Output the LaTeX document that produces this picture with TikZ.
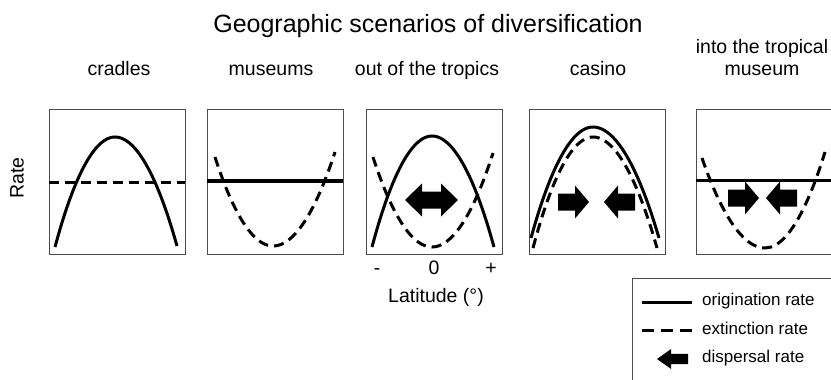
\documentclass[tikz,border=0pt]{standalone}
\usepackage{fontspec}
\setmainfont{Liberation Sans}
\begin{document}
\begin{tikzpicture}[x=1pt, y=-1pt,
  panel/.style={draw=black!70, line width=1pt},
  orig/.style={line width=3pt},
  ext/.style={line width=3pt, dash pattern=on 10pt off 6pt},
  lab/.style={font=\fontsize{19.5}{22}\selectfont, inner sep=0pt, anchor=base},
  key/.style={font=\fontsize{17}{20}\selectfont, inner sep=0pt, anchor=base west},
  disp/.pic={\fill (0,-8.5) -- (17,-8.5) -- (17,-16.5) -- (31,0) -- (17,16.5) -- (17,8.5) -- (0,8.5) -- cycle;}]
  \useasboundingbox (0,0) rectangle (831,380);
  \def\W{136}
  \def\H{145}
  % title and column heads
  \node[lab, font=\fontsize{25}{30}\selectfont] (title) at (428,32) {Geographic scenarios of diversification};
  \node[lab] (hcrad) at (119,75) {cradles};
  \node[lab] (hmus) at (271,75) {museums};
  \node[lab] (hout) at (427,75) {out of the tropics};
  \node[lab] (hcas) at (598,75) {casino};
  \node[lab, align=center] (hinto) at (762,75) {into the tropical\\museum};
  \node[lab, anchor=center, rotate=90] (rate) at (17,178) {Rate};
  % cradles
  \begin{scope}[shift={(49,109)}]
    \draw[panel] (0,0) rectangle (\W,\H);
    \draw[orig] (6,138) parabola bend (66,28) (128,137);
    \draw[ext] (0,73) -- (\W,73);
  \end{scope}
  % museums
  \begin{scope}[shift={(207,109)}]
    \draw[panel] (0,0) rectangle (\W,\H);
    \draw[orig, line width=4pt] (0,72) -- (\W,72);
    \draw[ext] (8,48) parabola bend (66,137) (128,43);
  \end{scope}
  % out of the tropics
  \begin{scope}[shift={(366,109)}]
    \draw[panel] (0,0) rectangle (\W,\H);
    \draw[orig] (6,138) parabola bend (66,27) (128,138);
    \draw[ext] (7,48) parabola bend (66,138) (127,44);
    \fill (39,91) -- (56,74.5) -- (56,82.5) -- (75,82.5) -- (75,74.5) -- (92,91)
      -- (75,107.5) -- (75,99.5) -- (56,99.5) -- (56,107.5) -- cycle;
  \end{scope}
  \node[lab] (lneg) at (377,274) {-};
  \node[lab] (lzero) at (434,274) {0};
  \node[lab] (lpos) at (491,274) {+};
  \node[lab] (lat) at (436,302) {Latitude (°)};
  % casino
  \begin{scope}[shift={(529,109)}]
    \draw[panel] (0,0) rectangle (\W,\H);
    \draw[orig] (2,129) parabola bend (64,18) (130,129);
    \draw[ext] (4,139) parabola bend (64,28) (128,139);
    \pic at (29,93) {disp};
    \pic[xscale=-1] at (106,93) {disp};
  \end{scope}
  % into the tropical museum
  \begin{scope}[shift={(696,109)}]
    \draw[panel] (\W+10,0) -- (0,0) -- (0,\H) -- (\W+10,\H);
    \draw[orig] (0,71) -- (\W+10,71);
    \draw[ext] (6,49) parabola bend (69,139) (129,43);
    \pic at (32,89) {disp};
    \pic[xscale=-1] at (101,89) {disp};
  \end{scope}
  % legend
  \draw[panel] (632,390) |- (840,278);
  \draw[orig] (642,302) -- (692,302);
  \draw[ext, dash pattern=on 12pt off 7pt] (642,330) -- (692,330);
  \pic[xscale=-1, yscale=0.6] at (688,359) {disp};
  \node[key] (korig) at (702,305) {origination rate};
  \node[key] (kext) at (702,334) {extinction rate};
  \node[key] (kdisp) at (702,362) {dispersal rate};
\end{tikzpicture}
\end{document}
